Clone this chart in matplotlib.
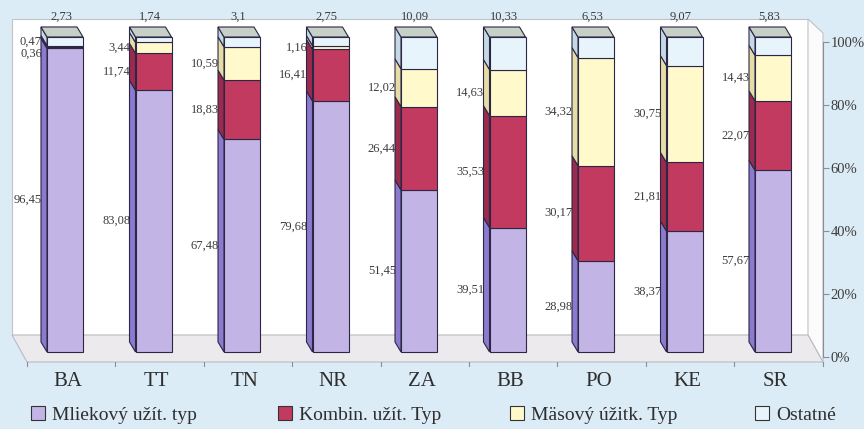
import matplotlib
matplotlib.use('Agg')
import matplotlib.pyplot as plt
from matplotlib.patches import Polygon, Patch
import numpy as np

regions = ['BA', 'TT', 'TN', 'NR', 'ZA', 'BB', 'PO', 'KE', 'SR']
series_names = ['Mliekový užít. typ', 'Kombin. užít. Typ', 'Mäsový úžitk. Typ', 'Ostatné']
mliekovy = [96.45, 83.08, 67.48, 79.68, 51.45, 39.51, 28.98, 38.37, 57.67]
kombin = [0.36, 11.74, 18.83, 16.41, 26.44, 35.53, 30.17, 21.81, 22.07]
masovy = [0.47, 3.44, 10.59, 1.16, 12.02, 14.63, 34.32, 30.75, 14.43]
ostatne = [2.73, 1.74, 3.1, 2.75, 10.09, 10.33, 6.53, 9.07, 5.83]
y_ticks = [0, 20, 40, 60, 80, 100]

front_cols = ['#c3b4e6', '#c23a60', '#fff9cc', '#e8f4fb']
side_cols = ['#8b7ace', '#9c2a4c', '#e6dca6', '#c5d9e4']
top_col = '#c6d0c7'
edge = '#2b2745'
serif = 'Liberation Serif'

W, H = 864, 429
fig = plt.figure(figsize=(W / 100, H / 100), dpi=100)
fig.patch.set_facecolor('#dcecf6')
ax = fig.add_axes([0, 0, 1, 1])
ax.set_xlim(-65 / 88.5, (W - 65) / 88.5)
ax.set_ylim((352 - H) / 3.15, 352 / 3.15)
ax.axis('off')


def X(px):
    return (px - 65) / 88.5


def Y(py):
    return (352 - py) / 3.15


# back wall, floor, right wall
ax.add_patch(Polygon([(X(12), Y(19)), (X(808), Y(19)), (X(808), Y(335)), (X(12), Y(335))],
                     closed=True, facecolor='white', edgecolor='#bfc3c8', lw=0.8, zorder=0))
ax.add_patch(Polygon([(X(808), Y(19)), (X(823), Y(33)), (X(823), Y(362)), (X(808), Y(335))],
                     closed=True, facecolor='#fbfbfb', edgecolor='#bfc3c8', lw=0.8, zorder=0))
ax.add_patch(Polygon([(X(12), Y(335)), (X(808), Y(335)), (X(823), Y(362)), (X(27), Y(362))],
                     closed=True, facecolor='#edeaee', edgecolor='#b8bcc2', lw=0.8, zorder=0))
for k in range(10):
    xt = X(27 + 88.4 * k)
    ax.plot([xt, xt], [Y(362), Y(366)], color='#8a8d92', lw=0.8, zorder=1)

x = np.arange(len(regions))
w = 36 / 88.5
dx, dy = -6 / 88.5, 10 / 3.15
data = [mliekovy, kombin, masovy, ostatne]
bottom = np.zeros(len(regions))
nudge = {(0, 1): 6.5, (0, 2): -5}  # pixel nudges (down +) for overlapping labels

for j, vals in enumerate(data):
    vals = np.array(vals)
    ax.bar(x, vals, width=w, bottom=bottom, color=front_cols[j], edgecolor=edge,
           linewidth=0.8, zorder=3)
    for i in range(len(regions)):
        xl = x[i] - w / 2
        b, v = bottom[i], vals[i]
        ax.add_patch(Polygon([(xl, b), (xl + dx, b + dy), (xl + dx, b + v + dy), (xl, b + v)],
                             closed=True, facecolor=side_cols[j], edgecolor=edge, lw=0.8, zorder=3))
        txt = f"{v:g}".replace('.', ',')
        if j < 3:
            yl = b + v / 2 - nudge.get((i, j), 0) / 3.15
            ax.text(xl + dx * 0.85, yl, txt, ha='right', va='center', fontsize=9,
                    family=serif, color='#3c3c3c', zorder=2)
        else:
            top = b + v
            ax.add_patch(Polygon([(xl, top), (xl + w, top), (xl + w + dx, top + dy), (xl + dx, top + dy)],
                                 closed=True, facecolor=top_col, edgecolor=edge, lw=0.8, zorder=3))
            ax.text(x[i] + dx / 2 - 0.01, top + dy + 3.2, txt, ha='center', va='center',
                    fontsize=9, family=serif, color='#3c3c3c', zorder=4)
    bottom += vals

for i, r in enumerate(regions):
    ax.text(x[i] + 0.03, Y(381), r, ha='center', va='center', fontsize=15,
            family=serif, color='#2e2e2e')

# right percentage axis
ax2 = fig.add_axes([0.9, (H - 357) / H, 823 / W - 0.9, 315 / H])
ax2.set_ylim(0, 100)
ax2.patch.set_visible(False)
for s in ['left', 'top', 'bottom']:
    ax2.spines[s].set_visible(False)
ax2.spines['right'].set_color('#8a8d92')
ax2.set_xticks([])
ax2.yaxis.tick_right()
ax2.set_yticks(y_ticks)
ax2.set_yticklabels([f"{t}%" for t in y_ticks], fontsize=10.5, family=serif, color='#3c3c3c')
ax2.tick_params(axis='y', length=4, width=0.8, color='#8a8d92', pad=1.5)

# legend, one entry at a time to match the uneven spacing
leg_x = [31, 278, 510, 755]
for j, name in enumerate(series_names):
    lg = fig.legend(handles=[Patch(facecolor=front_cols[j], edgecolor='#333333', lw=0.8)],
                    labels=[name], loc='center left', bbox_to_anchor=(leg_x[j] / W, (H - 415) / H),
                    frameon=False, prop={'family': serif, 'size': 14}, handlelength=0.72,
                    handleheight=0.72, handletextpad=0.36, borderpad=0, borderaxespad=0,
                    labelcolor='#2e2e2e')

fig.savefig('out.png', dpi=100, facecolor=fig.get_facecolor())
